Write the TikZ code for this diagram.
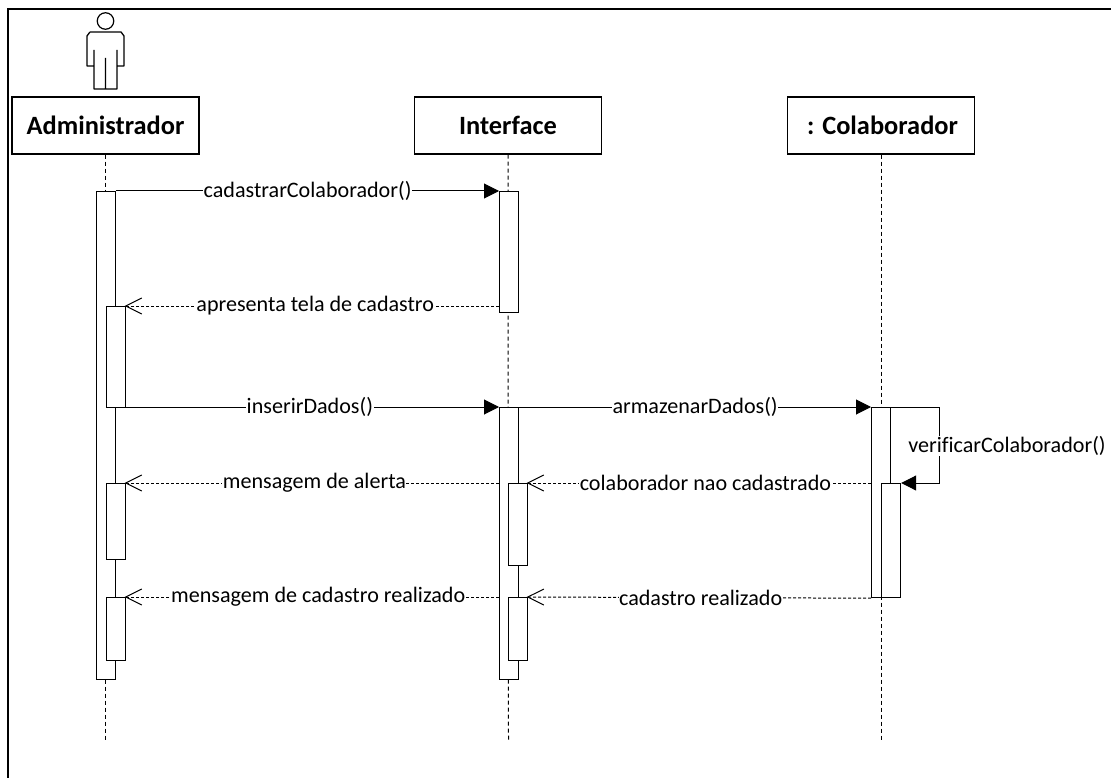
\documentclass[tikz,border=0pt]{standalone}
\usepackage{fontspec}
\setmainfont[Ligatures={NoCommon}]{Carlito}
\usetikzlibrary{arrows.meta}
\tikzset{
  x=1pt,y=-1pt,
  head/.style={draw=black,line width=1.4pt,fill=white,minimum width=187pt,minimum height=57pt,inner sep=0pt,font=\bfseries\fontsize{26.4}{30}\selectfont},
  act/.style={draw=black,line width=1.2pt,fill=white,inner sep=0pt,anchor=north west,minimum width=#1},
  act/.default=19pt,
  life/.style={line width=1pt,dash pattern=on 4pt off 3pt},
  sync/.style={line width=1pt,-{Triangle[length=15pt,width=15pt]}},
  retn/.style={line width=1pt,dash pattern=on 3pt off 2pt,shorten >=-1.5pt,-{Straight Barb[length=16pt,width=16pt,line width=1pt]}},
  msg/.style={fill=white,inner sep=0.5pt,font=\fontsize{22.1}{25}\selectfont},
  actorline/.style={line width=1.3pt,line join=round}
}
\begin{document}
\begin{tikzpicture}
\useasboundingbox (0,0) rectangle (1111,778);
\draw[line width=2.4pt,draw=black] (8,778) -- (8,9) -- (1111,9);
% actor
\node[circle,draw=black,line width=1.2pt,minimum size=16.5pt,inner sep=0pt] (head) at (105.5,21) {};
\draw[actorline] (90,32) -- (121,32) -- (124,36) -- (124,66) -- (117,66) (117,50) -- (117,89) -- (94,89) -- (94,50)
  (94,66) -- (87,66) -- (87,36) -- (90,32) (105.5,58) -- (105.5,89);
% heads
\node[head] (adm) at (105.5,125.5) {Administrador};
\node[head] (int) at (508,125.5) {Interface};
\node[head] (col) at (881,125.5) {\hspace*{3pt}: Colaborador};
% lifeline ends
\coordinate (admend) at (105.5,741);
\coordinate (intend) at (508.5,741);
\coordinate (colend) at (881,741);
\draw[life] (adm.south) -- (admend);
\draw[life] (int.south) -- (intend);
\draw[life] (col.south) -- (colend);
% activations
\node[act,minimum height=488pt] (a0) at (96,191) {};
\node[act,minimum height=101pt] (a1) at (106,306) {};
\node[act,minimum height=76pt] (a2) at (106,483) {};
\node[act,minimum height=63pt] (a3) at (106,597) {};
\node[act,minimum height=121pt] (i0) at (499,191) {};
\node[act,minimum height=272pt] (i1) at (499,407) {};
\node[act,minimum height=82pt] (i2) at (508,483) {};
\node[act,minimum height=63pt] (i3) at (508,597) {};
\node[act,minimum height=190pt] (c0) at (871,407) {};
\node[act,minimum height=114pt] (c1) at (881,483) {};
% messages
\draw[sync] (a0.north east) -- node[msg,pos=.5] {cadastrarColaborador()} (i0.north west);
\coordinate (r1) at (i0.north west |- a1.north east);
\draw[retn] (r1) -- node[msg,pos=.493] {apresenta tela de cadastro} (a1.north east);
\coordinate (s2) at (a0.east |- i1.north west);
\draw[sync] (s2) -- node[msg,pos=.506] {inserirDados()} (i1.north west);
\draw[sync] (i1.north east) -- node[msg,pos=.5] {armazenarDados()} (c0.north west);
\coordinate (selfa) at (939,407);
\coordinate (selfb) at (939,483);
\draw[line width=1pt] (c0.north east) -- (selfa);
\draw[sync] (selfa) -- (selfb) -- (c1.north east);
\node[msg] (vlabel) at (1007,446) {verificarColaborador()};
\coordinate (r3) at (i1.west |- a2.north east);
\draw[retn] (r3) -- node[msg,pos=.495] {mensagem de alerta} (a2.north east);
\coordinate (r4) at (c0.west |- i2.north east);
\draw[retn] (r4) -- node[msg,pos=.483] {colaborador nao cadastrado} (i2.north east);
\coordinate (r5) at (i1.west |- a3.north east);
\draw[retn] (r5) -- node[msg,pos=.485] {mensagem de cadastro realizado} (a3.north east);
\coordinate (r6) at (c0.south west);
\coordinate (r6b) at (i3.north east);
\draw[retn] (r6) -- node[msg,pos=.497] {cadastro realizado} (r6b);
\end{tikzpicture}
\end{document}
